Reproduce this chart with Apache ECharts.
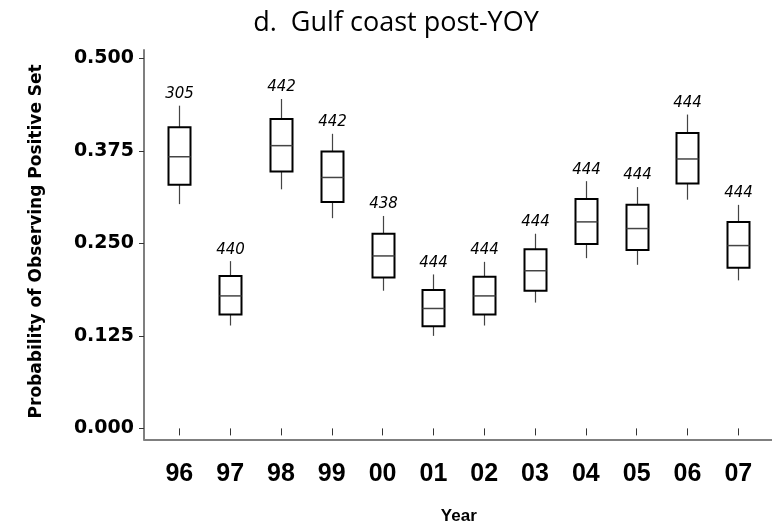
<!DOCTYPE html>
<html>
<head>
<meta charset="utf-8">
<script src="https://cdn.jsdelivr.net/npm/echarts@6/dist/echarts.min.js"></script>
<style>html,body{margin:0;padding:0;background:#fff}#chart{width:772px;height:530px}</style>
</head>
<body>
<div id="chart"></div>
<script>
const years = ['96','97','98','99','00','01','02','03','04','05','06','07'];
const whiskerLow  = [0.303,0.139,0.323,0.284,0.186,0.125,0.139,0.170,0.230,0.221,0.309,0.200];
const q1          = [0.329,0.154,0.347,0.306,0.204,0.138,0.154,0.186,0.249,0.241,0.331,0.217];
const median      = [0.367,0.179,0.382,0.339,0.233,0.162,0.179,0.213,0.279,0.270,0.364,0.247];
const q3          = [0.407,0.206,0.418,0.374,0.263,0.187,0.205,0.242,0.310,0.302,0.399,0.279];
const whiskerHigh = [0.436,0.226,0.445,0.398,0.287,0.208,0.225,0.263,0.334,0.326,0.424,0.302];
const counts      = [305,440,442,442,438,444,444,444,444,444,444,444];
const yTicks = {min: 0, max: 0.5, interval: 0.125};

const seriesData = years.map((y, i) => [i, whiskerLow[i], q1[i], median[i], q3[i], whiskerHigh[i], counts[i]]);

const AXIS = '#7f7f7f';
const chart = echarts.init(document.getElementById('chart'));
chart.setOption({
  animation: false,
  backgroundColor: '#fff',
  title: {
    text: 'd.  Gulf coast post-YOY',
    left: 391, top: 5, textAlign: 'center',
    textStyle: {fontFamily: 'Open Sans', fontSize: 27, fontWeight: 'normal', color: '#000'}
  },
  grid: [
    {left: 153.9, width: 609.8, top: 58.3, bottom: 97.3},
    {left: 144, right: 0, top: 50, bottom: 90.7}
  ],
  xAxis: [
    {
      type: 'category', gridIndex: 0, data: years, boundaryGap: true, offset: 6.6,
      axisLine: {show: false},
      axisTick: {show: true, alignWithLabel: true, length: 7, lineStyle: {color: '#333', width: 1}},
      axisLabel: {margin: 27, fontFamily: 'Liberation Sans', fontWeight: 'bold', fontSize: 25, color: '#000'},
      name: 'Year', nameLocation: 'middle', nameGap: 73,
      nameTextStyle: {fontFamily: 'Liberation Sans', fontWeight: 'bold', fontSize: 17, color: '#000'}
    },
    {
      type: 'value', gridIndex: 1, min: 0, max: 1,
      axisLine: {show: true, lineStyle: {color: AXIS, width: 2}},
      axisTick: {show: false}, axisLabel: {show: false}, splitLine: {show: false}
    }
  ],
  yAxis: [
    {
      type: 'value', gridIndex: 0, min: yTicks.min, max: yTicks.max, interval: yTicks.interval, offset: 9.9,
      axisLine: {show: false},
      axisTick: {show: true, length: 5, lineStyle: {color: '#333', width: 1}},
      axisLabel: {margin: 10, formatter: v => v.toFixed(3), fontFamily: 'DejaVu Sans', fontWeight: 'bold', fontSize: 19, color: '#000'},
      splitLine: {show: false},
      name: 'Probability of Observing Positive Set', nameLocation: 'middle', nameGap: 99,
      nameTextStyle: {fontFamily: 'DejaVu Sans', fontWeight: 'bold', fontSize: 17, color: '#000', padding: [0, 0, 0, 4]}
    },
    {
      type: 'value', gridIndex: 1, min: 0, max: 1,
      axisLine: {show: true, lineStyle: {color: AXIS, width: 2}},
      axisTick: {show: false}, axisLabel: {show: false}, splitLine: {show: false}
    }
  ],
  series: [{
    type: 'custom',
    xAxisIndex: 0, yAxisIndex: 0,
    data: seriesData,
    encode: {x: 0, y: [1, 2, 3, 4, 5]},
    renderItem: function (params, api) {
      const i = api.value(0);
      const lo = api.coord([i, api.value(1)]);
      const b1 = api.coord([i, api.value(2)]);
      const md = api.coord([i, api.value(3)]);
      const b3 = api.coord([i, api.value(4)]);
      const hi = api.coord([i, api.value(5)]);
      const cx = Math.round(lo[0]) + 0.5;
      const hw = 11;
      return {
        type: 'group',
        children: [
          {type: 'line', shape: {x1: cx, y1: b3[1], x2: cx, y2: hi[1]}, style: {stroke: '#444', lineWidth: 1.2}},
          {type: 'line', shape: {x1: cx, y1: b1[1], x2: cx, y2: lo[1]}, style: {stroke: '#444', lineWidth: 1.2}},
          {type: 'rect', shape: {x: cx - hw, y: b3[1], width: hw * 2, height: b1[1] - b3[1]},
            style: {fill: '#fff', stroke: '#000', lineWidth: 2}},
          {type: 'line', shape: {x1: cx - hw, y1: md[1], x2: cx + hw, y2: md[1]}, style: {stroke: '#444', lineWidth: 1.5}},
          {type: 'text', style: {text: String(api.value(6)), x: cx, y: hi[1] - 4, align: 'center', verticalAlign: 'bottom',
            font: 'italic 15px "DejaVu Sans"', fill: '#000'}}
        ]
      };
    }
  }]
});
</script>
</body>
</html>
